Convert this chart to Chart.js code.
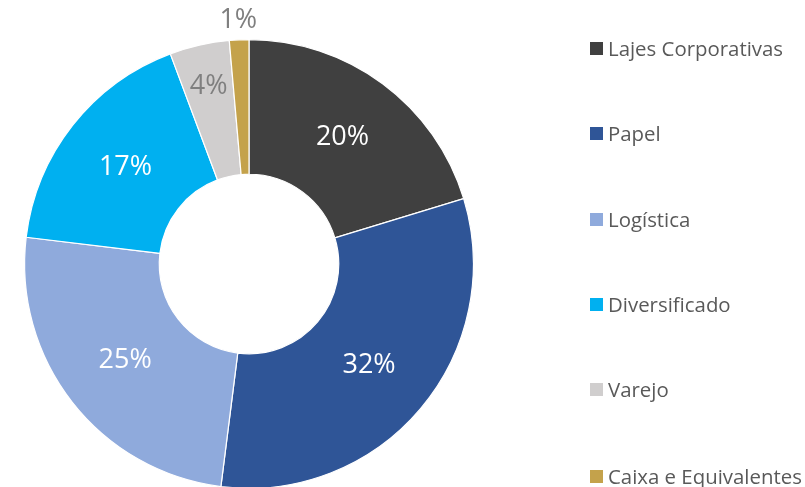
<!DOCTYPE html>
<html>
<head>
<meta charset="utf-8">
<script src="https://cdn.jsdelivr.net/npm/chart.js@4.4.1/dist/chart.umd.min.js"></script>
<style>
  html, body { margin: 0; padding: 0; background: #fff; overflow: hidden; }
  #wrap { position: relative; width: 805px; height: 487px; overflow: hidden; }
  #box { position: absolute; left: 0; top: 0; width: 805px; height: 490px; }
  #legend { position: absolute; left: 0; top: 0; }
  .item { position: absolute; left: 590px; display: flex; align-items: center; white-space: nowrap;
          font-family: "Open Sans", sans-serif; font-size: 20.4px; color: #595959; }
  .sw { width: 13px; height: 13px; margin-right: 5px; }
</style>
</head>
<body>
<div id="wrap">
  <div id="box"><canvas id="c"></canvas></div>
  <div id="legend"></div>
</div>
<script>
const categories = ["Lajes Corporativas", "Papel", "Logística", "Diversificado", "Varejo", "Caixa e Equivalentes"];
const values = [20.3, 31.7, 24.9, 17.4, 4.3, 1.4];
const percentLabels = ["20%", "32%", "25%", "17%", "4%", "1%"];
const colors = ["#404040", "#2F5597", "#8FAADC", "#00B0F0", "#D0CECE", "#C4A24B"];
const labelColors = ["#ffffff", "#ffffff", "#ffffff", "#ffffff", "#7F7F7F", "#7F7F7F"];
// label radius: null => middle of ring, else absolute radius in px
const labelRadius = [null, null, null, null, 182, 244];
const legendY = [48, 133, 219, 304, 389, 476];

const labelPlugin = {
  id: 'sliceLabels',
  afterDatasetsDraw(chart) {
    const ctx = chart.ctx;
    const meta = chart.getDatasetMeta(0);
    ctx.save();
    ctx.font = '27px "Open Sans", sans-serif';
    ctx.textAlign = 'center';
    ctx.textBaseline = 'middle';
    meta.data.forEach((arc, i) => {
      const p = arc.getProps(['x', 'y', 'startAngle', 'endAngle', 'innerRadius', 'outerRadius'], true);
      const mid = (p.startAngle + p.endAngle) / 2;
      const r = labelRadius[i] == null ? (p.innerRadius + p.outerRadius) / 2 : labelRadius[i];
      const x = p.x + Math.cos(mid) * r;
      const y = p.y + Math.sin(mid) * r;
      ctx.fillStyle = labelColors[i];
      ctx.fillText(percentLabels[i], x, y);
    });
    ctx.restore();
  }
};

new Chart(document.getElementById('c'), {
  type: 'doughnut',
  data: {
    labels: categories,
    datasets: [{
      data: values,
      backgroundColor: colors,
      borderColor: '#ffffff',
      borderWidth: 1.2
    }]
  },
  options: {
    responsive: true,
    maintainAspectRatio: false,
    animation: false,
    cutout: '40%',
    layout: { padding: { left: 24, top: 39, right: 331, bottom: 1 } },
    plugins: { legend: { display: false }, tooltip: { enabled: false } }
  },
  plugins: [labelPlugin]
});

const leg = document.getElementById('legend');
categories.forEach((name, i) => {
  const d = document.createElement('div');
  d.className = 'item';
  d.style.top = (legendY[i] - 14) + 'px';
  d.style.height = '28px';
  const s = document.createElement('span');
  s.className = 'sw';
  s.style.background = colors[i];
  const t = document.createElement('span');
  t.textContent = name;
  d.appendChild(s); d.appendChild(t);
  leg.appendChild(d);
});
</script>
</body>
</html>
